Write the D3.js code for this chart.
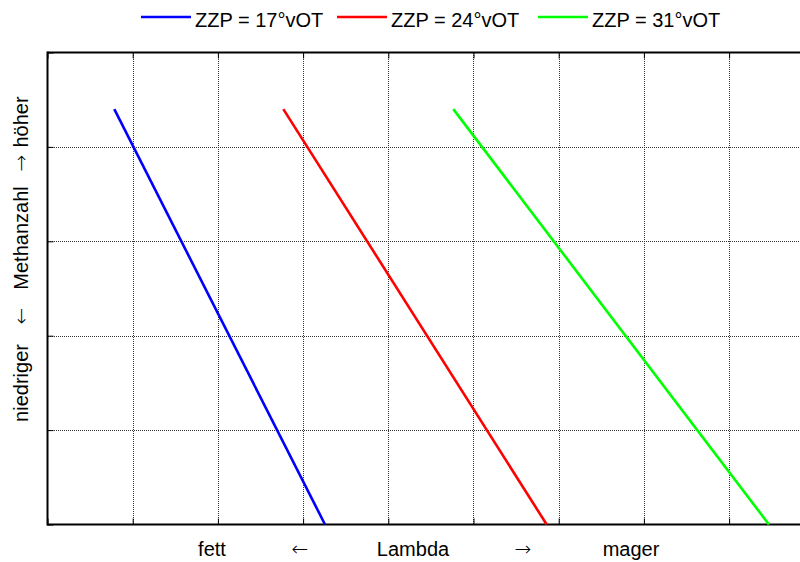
<!DOCTYPE html>
<html>
<head>
<meta charset="utf-8">
<script src="https://cdn.jsdelivr.net/npm/d3@7/dist/d3.min.js"></script>
<style>
  body { margin: 0; background: #fff; }
  svg { display: block; font-family: "Liberation Sans", Arial, Helvetica, sans-serif; }
  .arrow { font-family: "DejaVu Sans", sans-serif; font-weight: 200; }
</style>
</head>
<body>
<svg id="chart" width="800" height="562"></svg>
<script>
// Grid divisions (no numeric labels are shown on either axis)
const lambdaTicks = [0, 1, 2, 3, 4, 5, 6, 7, 8, 9];
const methaneTicks = [0, 1, 2, 3, 4, 5];

// Series: ignition timing (ZZP) lines, methane number vs. lambda
const seriesNames = ["ZZP = 17°vOT", "ZZP = 24°vOT", "ZZP = 31°vOT"];
const seriesColors = ["#0000ff", "#ff0000", "#00ff00"];
const lambda17 = [0.784, 3.257];
const methane17 = [4.40, 0.0];
const lambda24 = [2.768, 5.859];
const methane24 = [4.40, 0.0];
const lambda31 = [4.763, 8.468];
const methane31 = [4.40, 0.0];

// Axis captions
const xCaptionParts = ["fett", "←", "Lambda", "→", "mager"];
const yCaptionParts = ["niedriger", "←", "Methanzahl", "→", "höher"];
const isArrow = s => s === "←" || s === "→";

const series = [
  { name: seriesNames[0], color: seriesColors[0], pts: lambda17.map((l, i) => [l, methane17[i]]) },
  { name: seriesNames[1], color: seriesColors[1], pts: lambda24.map((l, i) => [l, methane24[i]]) },
  { name: seriesNames[2], color: seriesColors[2], pts: lambda31.map((l, i) => [l, methane31[i]]) }
];

const svg = d3.select("#chart");
const plotLeft = 47.5, plotTop = 52.5, plotBottom = 524.5, plotRight = 814.3;

const x = d3.scaleLinear().domain([0, 9]).range([plotLeft, plotRight]);
const y = d3.scaleLinear().domain([0, 5]).range([plotBottom, plotTop]);

// Dotted grid
const grid = svg.append("g").attr("stroke", "#333").attr("stroke-width", 1)
  .attr("stroke-dasharray", "1,1").attr("shape-rendering", "crispEdges");
grid.selectAll("line.v").data(lambdaTicks.filter(d => d > 0 && d < 9)).join("line")
  .attr("class", "v")
  .attr("x1", d => Math.round(x(d)) + 0.5).attr("x2", d => Math.round(x(d)) + 0.5)
  .attr("y1", plotTop).attr("y2", plotBottom);
grid.selectAll("line.h").data(methaneTicks.filter(d => d > 0 && d < 5)).join("line")
  .attr("class", "h")
  .attr("y1", d => Math.round(y(d)) + 0.5).attr("y2", d => Math.round(y(d)) + 0.5)
  .attr("x1", plotLeft).attr("x2", plotRight);

// Inward tick marks on the frame
const tickLen = 6;
const axisB = svg.append("g").attr("transform", `translate(0,${plotBottom})`)
  .call(d3.axisBottom(x).tickValues(lambdaTicks).tickSize(-tickLen).tickFormat(""));
const axisT = svg.append("g").attr("transform", `translate(0,${plotTop})`)
  .call(d3.axisTop(x).tickValues(lambdaTicks).tickSize(-tickLen).tickFormat(""));
const axisL = svg.append("g").attr("transform", `translate(${plotLeft},0)`)
  .call(d3.axisLeft(y).tickValues(methaneTicks).tickSize(-tickLen).tickFormat(""));
[axisB, axisT, axisL].forEach(a => {
  a.selectAll(".domain").remove();
  a.selectAll(".tick line").attr("stroke", "#000").attr("stroke-width", 1);
});

// Frame (left, top, bottom)
const frame = svg.append("g").attr("stroke", "#000").attr("stroke-width", 2).attr("fill", "none");
frame.append("line").attr("x1", plotLeft).attr("x2", plotRight).attr("y1", plotTop).attr("y2", plotTop);
frame.append("line").attr("x1", plotLeft).attr("x2", plotRight).attr("y1", plotBottom).attr("y2", plotBottom);
frame.append("line").attr("x1", plotLeft).attr("x2", plotLeft).attr("y1", plotTop - 1).attr("y2", plotBottom + 1);

// Series lines
const lineGen = d3.line().x(d => x(d[0])).y(d => y(d[1]));
svg.append("g").selectAll("path").data(series).join("path")
  .attr("d", d => lineGen(d.pts))
  .attr("fill", "none")
  .attr("stroke", d => d.color)
  .attr("stroke-width", 2.6);

// Legend
const legendX = [141, 337, 538];
const legend = svg.append("g");
series.forEach((s, i) => {
  const g = legend.append("g").attr("transform", `translate(${legendX[i]},0)`);
  g.append("line").attr("x1", 0).attr("x2", 50).attr("y1", 17).attr("y2", 17)
    .attr("stroke", s.color).attr("stroke-width", 2.6);
  g.append("text").attr("x", 54).attr("y", 27).attr("font-size", 20)
    .attr("fill", "#000").text(s.name);
});

// X caption
const xCaptionCenters = [212, 300, 413, 523, 631];
svg.append("g").selectAll("text").data(xCaptionParts).join("text")
  .attr("class", d => isArrow(d) ? "arrow" : null)
  .attr("x", (d, i) => xCaptionCenters[i]).attr("y", 556)
  .attr("text-anchor", "middle").attr("font-size", 20).attr("fill", "#000")
  .text(d => d);

// Y caption (rotated, reading bottom to top)
const yCaptionCenters = [383, 316, 238, 163, 122];
svg.append("g").selectAll("text").data(yCaptionParts).join("text")
  .attr("class", d => isArrow(d) ? "arrow" : null)
  .attr("transform", (d, i) => `translate(28,${yCaptionCenters[i]}) rotate(-90)`)
  .attr("text-anchor", "middle").attr("font-size", 20).attr("fill", "#000")
  .text(d => d);
</script>
</body>
</html>
